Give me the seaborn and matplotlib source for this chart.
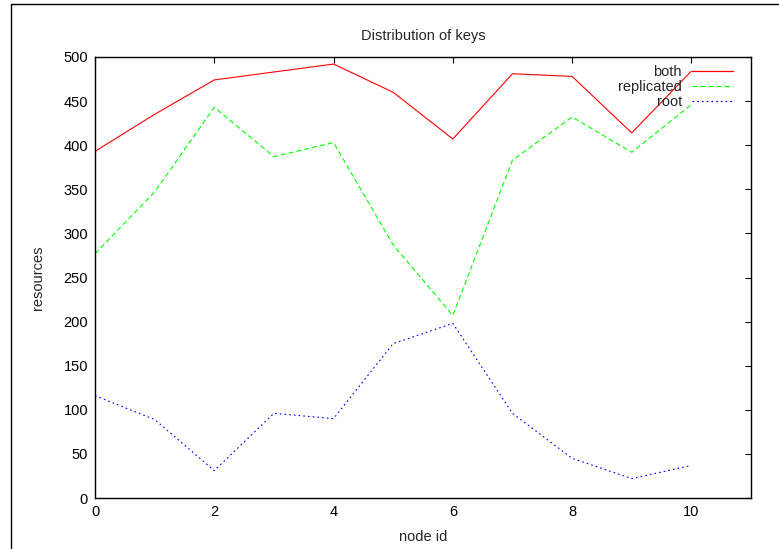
import numpy as np
import pandas as pd
import matplotlib
matplotlib.use("Agg")
import matplotlib.pyplot as plt
from matplotlib.lines import Line2D
import seaborn as sns

node_ids = list(range(11))
both = [393, 435, 474, 483, 492, 460, 407, 481, 478, 414, 484]
replicated = [277, 347, 443, 387, 403, 287, 207, 383, 432, 392, 446]
root = [116, 89, 31, 96, 90, 175, 198, 96, 45, 22, 37]

series_names = ["both", "replicated", "root"]

df = pd.DataFrame({
    "node id": node_ids * len(series_names),
    "resources": both + replicated + root,
    "series": np.repeat(series_names, len(node_ids)),
})

sns.set_theme(style="white")
plt.rcParams["font.family"] = ["Liberation Sans", "DejaVu Sans"]
plt.rcParams["lines.scale_dashes"] = False

FS = 10.5
fig = plt.figure(figsize=(7.79, 5.49), dpi=100)
W, H = 779, 549
ax = fig.add_axes([95 / W, 1 - 498 / H, (751 - 95) / W, (498 - 57) / H])

palette = {"both": "#ff0000", "replicated": "#00ff00", "root": "#0000ff"}
dashes = {"both": "", "replicated": (3.6, 2.2), "root": (1.2, 2.2)}

sns.lineplot(data=df, x="node id", y="resources", hue="series", style="series",
             palette=palette, dashes=dashes, linewidth=0.8, ax=ax, legend=False)

ax.set_xlim(0, 11)
ax.set_ylim(0, 500)
ax.set_xticks([0, 2, 4, 6, 8, 10])
ax.set_yticks(range(0, 501, 50))
ax.tick_params(direction="in", length=4.5, width=0.8, top=True, right=True,
               labelsize=FS, colors="black", pad=5)
for s in ax.spines.values():
    s.set_visible(True)
    s.set_color("black")
    s.set_linewidth(1.0)

ax.set_title("Distribution of keys", fontsize=FS, pad=12.5)
ax.set_xlabel("node id", fontsize=FS, labelpad=8)
ax.set_ylabel("resources", fontsize=FS, labelpad=13)

handles = []
for n in series_names:
    if dashes[n]:
        handles.append(Line2D([], [], color=palette[n], linewidth=0.9, dashes=dashes[n]))
    else:
        handles.append(Line2D([], [], color=palette[n], linewidth=0.9, linestyle="-"))
leg = ax.legend(handles, series_names, loc="upper right",
                bbox_to_anchor=((733 - 95) / 656, 1 - 8 / 441),
                frameon=False, markerfirst=False, fontsize=FS,
                handlelength=2.8, handletextpad=0.7, labelspacing=0.08,
                borderpad=0, borderaxespad=0)

# outer frame
fig.add_artist(Line2D([11 / W, 11 / W], [0, 1 - 4 / H], transform=fig.transFigure,
                      color="black", linewidth=1.0))
fig.add_artist(Line2D([11 / W, 1], [1 - 4 / H, 1 - 4 / H], transform=fig.transFigure,
                      color="black", linewidth=1.0))

fig.savefig("out.png", dpi=100)
